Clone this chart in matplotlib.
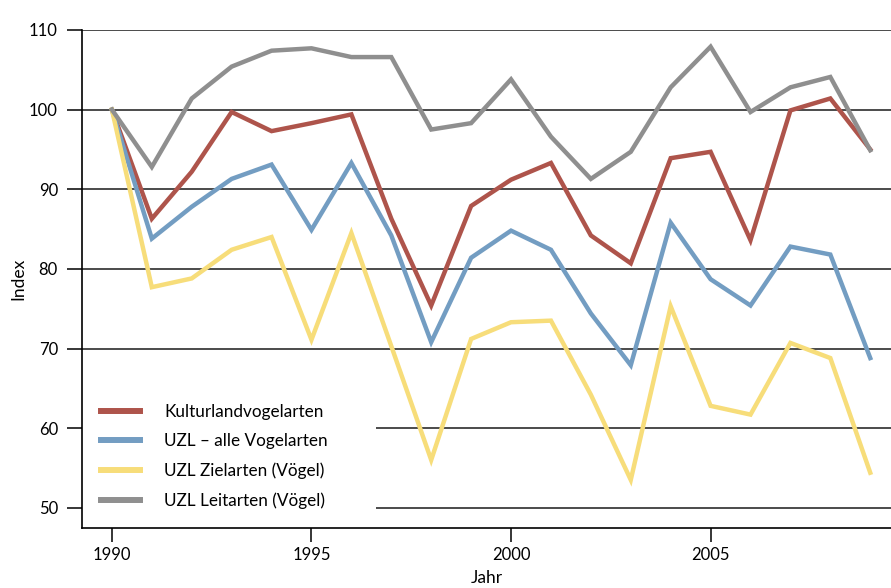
import matplotlib.pyplot as plt

plt.rcParams['font.family'] = ['Lato', 'DejaVu Sans']

years = list(range(1990, 2010))

kulturland = [100, 86.3, 92.2, 99.7, 97.3, 98.3, 99.4, 86.3, 75.4, 87.9,
              91.2, 93.3, 84.2, 80.7, 93.9, 94.7, 83.6, 99.9, 101.4, 95.0]
uzl_alle = [100, 83.8, 87.8, 91.3, 93.1, 84.9, 93.3, 84.2, 70.8, 81.4,
            84.8, 82.4, 74.4, 67.9, 85.8, 78.7, 75.4, 82.8, 81.8, 68.8]
uzl_ziel = [100, 77.7, 78.8, 82.4, 84.0, 71.1, 84.5, 70.3, 56.0, 71.2,
            73.3, 73.5, 64.2, 53.5, 75.3, 62.8, 61.7, 70.7, 68.8, 54.4]
uzl_leit = [100, 92.8, 101.4, 105.4, 107.4, 107.7, 106.6, 106.6, 97.5, 98.3,
            103.8, 96.6, 91.3, 94.7, 102.8, 107.9, 99.7, 102.8, 104.1, 94.9]

labels = ['Kulturlandvogelarten', 'UZL \u2013 alle Vogelarten',
          'UZL Zielarten (Vögel)', 'UZL Leitarten (Vögel)']
colors = ['#ae544b', '#739dc2', '#f7dd7a', '#8f8f8f']
x_ticks = [1990, 1995, 2000, 2005]
y_ticks = [50, 60, 70, 80, 90, 100, 110]

fig = plt.figure(figsize=(8.91, 5.88), dpi=100)
ax = fig.add_axes([0.092, 0.1026, 0.908, 0.8464])

for vals, lab, col in zip([kulturland, uzl_alle, uzl_ziel, uzl_leit], labels, colors):
    ax.plot(years, vals, color=col, linewidth=3.2, label=lab, solid_joinstyle='miter')

ax.set_xlim(1989.25, 2009.52)
ax.set_ylim(47.5, 110)
ax.set_xticks(x_ticks)
ax.set_yticks(y_ticks)
ax.yaxis.grid(True, color='#1a1a1a', linewidth=1.1)
ax.set_axisbelow(True)

for s in ['top', 'right']:
    ax.spines[s].set_visible(False)
for s in ['left', 'bottom']:
    ax.spines[s].set_linewidth(1.2)
    ax.spines[s].set_color('black')

ax.tick_params(axis='y', direction='out', length=10.8, width=1.1, pad=6.5, labelsize=12)
ax.tick_params(axis='x', direction='out', length=10, width=1.1, pad=4, labelsize=12)

ax.set_ylabel('Index', fontsize=12.5, labelpad=2)
ax.set_xlabel('Jahr', fontsize=12.5, labelpad=5)

# legend box: white, sits on the grid but under the spines
leg = ax.legend(loc='lower left', bbox_to_anchor=(0.0, 0.0, 0.363, 0.3),
                mode='expand', fontsize=12.3,
                frameon=True, fancybox=False, framealpha=1, borderaxespad=0,
                handlelength=2.3, handletextpad=1.4, labelspacing=0.78,
                borderpad=1.1)
leg.get_frame().set_edgecolor('white')
leg.get_frame().set_facecolor('white')
leg.get_frame().set_linewidth(0)
leg.set_zorder(2.2)
for line in leg.get_lines():
    line.set_linewidth(4.3)

fig.savefig('out.png', dpi=100)
